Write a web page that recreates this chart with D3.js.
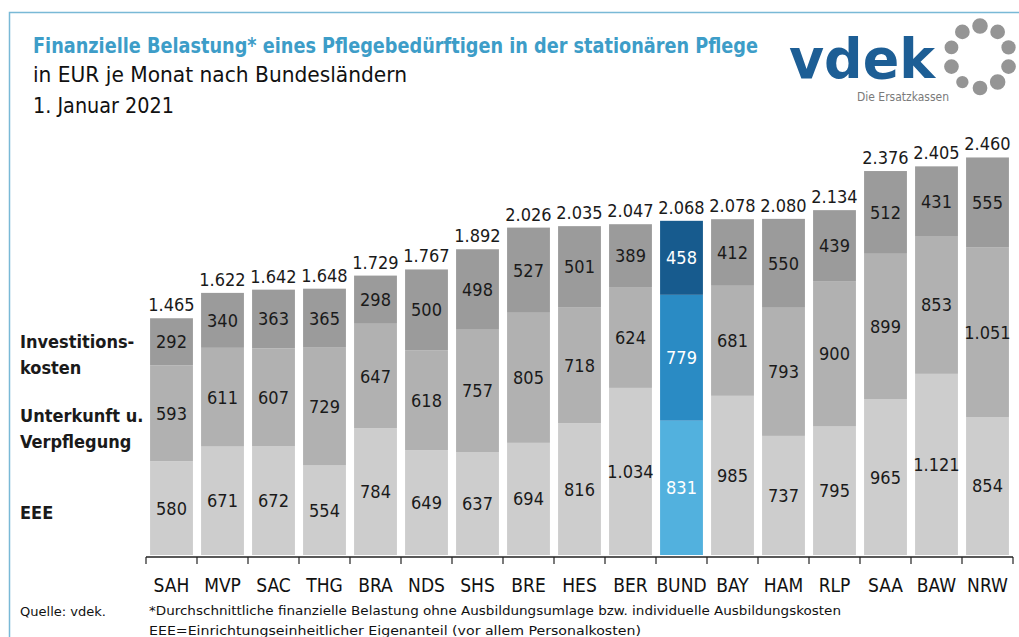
<!DOCTYPE html>
<html>
<head>
<meta charset="utf-8">
<script src="https://cdn.jsdelivr.net/npm/d3@7"></script>
<style>
  body { margin: 0; background: #fff; }
  svg { display: block; }
</style>
</head>
<body>
<div id="chart"></div>
<script>
// Werte aus der vdek-Grafik (EUR je Monat, 1. Januar 2021)
const laender = ["SAH", "MVP", "SAC", "THG", "BRA", "NDS", "SHS", "BRE", "HES", "BER", "BUND", "BAY", "HAM", "RLP", "SAA", "BAW", "NRW"];
const eee = [580, 671, 672, 554, 784, 649, 637, 694, 816, 1034, 831, 985, 737, 795, 965, 1121, 854];
const unterkunft = [593, 611, 607, 729, 647, 618, 757, 805, 718, 624, 779, 681, 793, 900, 899, 853, 1051];
const investition = [292, 340, 363, 365, 298, 500, 498, 527, 501, 389, 458, 412, 550, 439, 512, 431, 555];
const gesamt = [1465, 1622, 1642, 1648, 1729, 1767, 1892, 2026, 2035, 2047, 2068, 2078, 2080, 2134, 2376, 2405, 2460];
const keys = ["eee", "uv", "inv"];

const w = 1019, h = 637;
const narrow = "'Liberation Sans Narrow', 'DejaVu Sans Condensed', sans-serif";

const de = d3.formatLocale({ decimal: ",", thousands: ".", grouping: [3], currency: ["", " €"] });
const fmt = de.format(",d");

const svg = d3.select("#chart").append("svg")
  .attr("width", w)
  .attr("height", h);

// Rahmen oben / links
svg.append("path")
  .attr("d", `M9.5,${h} V12.5 H${w}`)
  .attr("fill", "none")
  .attr("stroke", "#79b9d6")
  .attr("stroke-width", 1.5);

// Titel
svg.append("text")
  .attr("x", 33).attr("y", 53)
  .attr("font-family", narrow)
  .attr("font-weight", "bold")
  .attr("font-size", 21)
  .attr("fill", "#3d9dc8")
  .attr("textLength", 725).attr("lengthAdjust", "spacingAndGlyphs")
  .text("Finanzielle Belastung* eines Pflegebedürftigen in der stationären Pflege");

svg.append("text")
  .attr("x", 33).attr("y", 82)
  .attr("font-family", narrow)
  .attr("font-size", 21)
  .attr("fill", "#111")
  .attr("textLength", 374).attr("lengthAdjust", "spacingAndGlyphs")
  .text("in EUR je Monat nach Bundesländern");

svg.append("text")
  .attr("x", 33).attr("y", 113)
  .attr("font-family", narrow)
  .attr("font-size", 21)
  .attr("fill", "#111")
  .attr("textLength", 141).attr("lengthAdjust", "spacingAndGlyphs")
  .text("1. Januar 2021");

// Logo
const logo = svg.append("g");
logo.append("text")
  .attr("x", 789).attr("y", 78)
  .attr("font-family", "'DejaVu Sans', sans-serif")
  .attr("font-weight", "bold")
  .attr("font-size", 56)
  .attr("fill", "#1d5e95")
  .attr("textLength", 146).attr("lengthAdjust", "spacingAndGlyphs")
  .text("vdek");
logo.append("text")
  .attr("x", 857).attr("y", 101)
  .attr("font-family", narrow)
  .attr("font-size", 11.5)
  .attr("fill", "#7a7a7a")
  .attr("textLength", 92).attr("lengthAdjust", "spacingAndGlyphs")
  .text("Die Ersatzkassen");
const ring = d3.range(10).map(i => -Math.PI / 2 + i * 2 * Math.PI / 10);
logo.selectAll("path.dot")
  .data(ring)
  .join("path")
  .attr("class", "dot")
  .attr("d", d3.symbol().type(d3.symbolCircle).size((d, i) => [190, 170, 160, 170, 190, 170, 120, 170, 150, 170][i]))
  .attr("transform", d => `translate(${980 + 30 * Math.cos(d)},${57 + 31 * Math.sin(d)})`)
  .attr("fill", "#959595");

// Skalen
const x = d3.scaleBand()
  .domain(laender)
  .range([146, 1013])
  .paddingInner(0.16)
  .paddingOuter(0.08);

const y = d3.scaleLinear()
  .domain([0, 2500])
  .range([555, 151]);

const rows = laender.map((l, i) => ({ land: l, eee: eee[i], uv: unterkunft[i], inv: investition[i], total: gesamt[i] }));
const stacked = d3.stack().keys(keys)(rows);

const grau = { eee: "#cdcdcd", uv: "#b1b1b1", inv: "#9b9b9b" };
const blau = { eee: "#52b1de", uv: "#2a8bc4", inv: "#175b8e" };

const layer = svg.append("g")
  .selectAll("g")
  .data(stacked)
  .join("g");

layer.selectAll("rect")
  .data(s => s.map(d => ({ key: s.key, d })))
  .join("rect")
  .attr("x", o => x(o.d.data.land))
  .attr("width", x.bandwidth())
  .attr("y", o => y(o.d[1]))
  .attr("height", o => y(o.d[0]) - y(o.d[1]))
  .attr("fill", o => o.d.data.land === "BUND" ? blau[o.key] : grau[o.key]);

layer.selectAll("text")
  .data(s => s.map(d => ({ key: s.key, d })))
  .join("text")
  .attr("x", o => x(o.d.data.land) + x.bandwidth() / 2)
  .attr("y", o => (y(o.d[0]) + y(o.d[1])) / 2)
  .attr("dy", "0.36em")
  .attr("text-anchor", "middle")
  .attr("font-family", narrow)
  .attr("font-size", 18)
  .attr("fill", o => o.d.data.land === "BUND" ? "#fff" : "#1a1a1a")
  .text(o => fmt(o.d.data[o.key]));

// Summen über den Balken
svg.append("g")
  .selectAll("text")
  .data(rows)
  .join("text")
  .attr("x", d => x(d.land) + x.bandwidth() / 2)
  .attr("y", d => y(d.total) - 7)
  .attr("text-anchor", "middle")
  .attr("font-family", narrow)
  .attr("font-size", 18)
  .attr("fill", "#1a1a1a")
  .text(d => fmt(d.total));

// x-Achse mit Strichen an den Bandgrenzen
const axis = svg.append("g")
  .attr("transform", "translate(0,557)");
axis.append("line")
  .attr("x1", 146).attr("x2", 1013)
  .attr("stroke", "#222").attr("stroke-width", 1.5);
axis.selectAll("line.tick")
  .data(d3.range(laender.length + 1))
  .join("line")
  .attr("class", "tick")
  .attr("x1", i => 146 + i * (867 / laender.length))
  .attr("x2", i => 146 + i * (867 / laender.length))
  .attr("y1", 0).attr("y2", 7)
  .attr("stroke", "#222").attr("stroke-width", 1.2);
axis.selectAll("text")
  .data(laender)
  .join("text")
  .attr("x", d => x(d) + x.bandwidth() / 2)
  .attr("y", 35)
  .attr("text-anchor", "middle")
  .attr("font-family", narrow)
  .attr("font-size", 19)
  .attr("fill", "#111")
  .text(d => d);

// Legende links
const legende = [
  ["Investitions-", 348], ["kosten", 374],
  ["Unterkunft u.", 422], ["Verpflegung", 448],
  ["EEE", 519]
];
svg.append("g")
  .selectAll("text")
  .data(legende)
  .join("text")
  .attr("x", 20)
  .attr("y", d => d[1])
  .attr("font-family", narrow)
  .attr("font-weight", "bold")
  .attr("font-size", 18)
  .attr("fill", "#1a1a1a")
  .text(d => d[0]);

// Fußnoten
const foot = svg.append("g")
  .attr("font-family", narrow)
  .attr("font-size", 13)
  .attr("fill", "#111");
foot.append("text").attr("x", 20).attr("y", 616)
  .attr("textLength", 86).attr("lengthAdjust", "spacingAndGlyphs")
  .text("Quelle: vdek.");
foot.append("text").attr("x", 149).attr("y", 615)
  .attr("textLength", 692).attr("lengthAdjust", "spacingAndGlyphs")
  .text("*Durchschnittliche finanzielle Belastung ohne Ausbildungsumlage bzw. individuelle Ausbildungskosten");
foot.append("text").attr("x", 149).attr("y", 635)
  .attr("textLength", 492).attr("lengthAdjust", "spacingAndGlyphs")
  .text("EEE=Einrichtungseinheitlicher Eigenanteil (vor allem Personalkosten)");
</script>
</body>
</html>
